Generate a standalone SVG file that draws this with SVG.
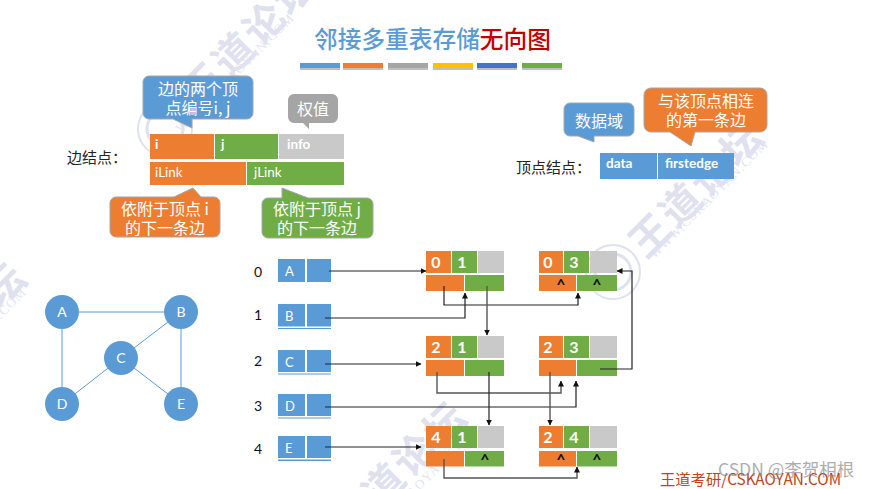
<svg xmlns="http://www.w3.org/2000/svg" width="870" height="489" viewBox="0 0 870 489">
<defs>
<marker id="ah" markerWidth="6" markerHeight="6" refX="5.5" refY="3" orient="auto" markerUnits="userSpaceOnUse"><path d="M0,0 L6,3 L0,6 Z" fill="#111"/></marker>
</defs>
<style>
text{font-family:"Noto Sans CJK SC","Liberation Sans",sans-serif}
.o{fill:#ED7D31}.g{fill:#70AD47}.h{fill:#C9C9C9}.b{fill:#5B9BD5}
.cap{fill:#fff;font-size:16px;text-anchor:middle}
.cell{fill:#fff;font-family:Lato,"Liberation Sans",sans-serif;font-size:13.500px;font-weight:700}
.link{fill:#fff;font-family:Lato,"Liberation Sans",sans-serif;font-size:13.500px}
.num{fill:#fff;font-family:Lato,"Liberation Sans",sans-serif;font-size:16px;font-weight:700;text-anchor:middle}
.nil{fill:#111;font-family:Lato,"Liberation Sans",sans-serif;font-size:16px;font-weight:700;text-anchor:middle}
.lab{fill:#222;font-size:15px}
.idx{fill:#111;font-family:Lato,"Liberation Sans",sans-serif;font-size:14px;text-anchor:middle}
.vl{fill:#fff;font-family:Lato,"Liberation Sans",sans-serif;font-size:13px}
.gl{fill:#fff;font-family:Lato,"Liberation Sans",sans-serif;font-size:14px;text-anchor:middle}
.call{stroke:#a6a6a6;stroke-width:1}
.wm{fill:#DFE1EF;font-size:40px;font-weight:700;text-anchor:middle;letter-spacing:3px}
.wms{fill:#E2E4F0;font-family:"Liberation Serif",serif;font-size:13px;text-anchor:middle;letter-spacing:1.2px}
.stamp{fill:none;stroke:#DFE1EF}
.edge{fill:none;stroke:#5B9BD5;stroke-width:1}
.conn{fill:none;stroke:#222;stroke-width:1.2;marker-end:url(#ah)}
.conn2{fill:none;stroke:#555;stroke-width:1.4;marker-end:url(#ah)}
.sh{fill:#000;opacity:.25}
</style>
<rect width="870" height="489" fill="#fff"/>

<g id="watermark">
<text class="wm" transform="translate(250,38) rotate(-45)" dy="14">王道论坛</text>
<text class="wms" transform="translate(238,76) rotate(-45)">WWW.CSKAOYAN.COM</text>
<text class="wm" transform="translate(697,189) rotate(-45)" dy="14">王道论坛</text>
<text class="wms" transform="translate(712,202) rotate(-45)">WWW.CSKAOYAN.COM</text>
<text class="wm" transform="translate(400,469) rotate(-45)" dy="14">王道论坛</text>
<text class="wms" transform="translate(418,492) rotate(-45)">WWW.CSKAOYAN.COM</text>
<text class="wm" transform="translate(-40,330) rotate(-45)" dy="14">王道论坛</text>
<text class="wms" transform="translate(-30,350) rotate(-45)">WWW.CSKAOYAN.COM</text>
<circle class="stamp" cx="165" cy="129" r="27" stroke-width="2"/><circle class="stamp" cx="165" cy="129" r="18" stroke-width="3"/>
<circle class="stamp" cx="613" cy="272" r="27" stroke-width="2"/><circle class="stamp" cx="613" cy="272" r="18" stroke-width="3"/>
</g>

<g id="title">
<text x="314" y="48" font-size="23.700" font-weight="500" fill="#5B9BD5">邻接多重表存储<tspan fill="#C00000">无向图</tspan></text>
<rect class="sh" x="300" y="65" width="40" height="5"/><rect x="300" y="63" width="40" height="5" fill="#5B9BD5"/>
<rect class="sh" x="343" y="65" width="40" height="5"/><rect x="343" y="63" width="40" height="5" fill="#ED7D31"/>
<rect class="sh" x="388" y="65" width="40" height="5"/><rect x="388" y="63" width="40" height="5" fill="#A5A5A5"/>
<rect class="sh" x="433" y="65" width="40" height="5"/><rect x="433" y="63" width="40" height="5" fill="#FFC000"/>
<rect class="sh" x="477" y="65" width="40" height="5"/><rect x="477" y="63" width="40" height="5" fill="#4472C4"/>
<rect class="sh" x="522" y="65" width="40" height="5"/><rect x="522" y="63" width="40" height="5" fill="#70AD47"/>
</g>

<g id="edge-format">
<text class="lab" x="67" y="163">边结点：</text>
<rect class="o" x="150" y="134" width="64" height="25"/><rect class="g" x="215" y="134" width="63" height="25"/><rect class="h" x="279" y="134" width="65" height="25"/>
<rect class="o" x="150" y="162" width="96" height="23"/><rect class="g" x="247" y="162" width="97" height="23"/>
<text class="cell" x="155" y="149">i</text><text class="cell" x="221" y="149">j</text><text class="cell" x="287" y="149">info</text>
<text class="link" x="155" y="177">iLink</text><text class="link" x="254" y="177">jLink</text>
</g>
<g id="callout-ij">
<path class="b call" d="M149,76H247a6,6 0 0 1 6,6V113a6,6 0 0 1 -6,6H192V128L173,119H149a6,6 0 0 1 -6,-6V82a6,6 0 0 1 6,-6Z"/>
<text class="cap" x="198" y="95">边的两个顶</text><text class="cap" x="198" y="114">点编号i, j</text>
</g>
<g id="callout-weight">
<path d="M294,94H332a6,6 0 0 1 6,6V117a6,6 0 0 1 -6,6H309V129L303,123H294a6,6 0 0 1 -6,-6V100a6,6 0 0 1 6,-6Z" fill="#A5A5A5"/>
<text class="cap" x="313" y="115">权值</text>
</g>
<g id="callout-ilink">
<path class="o call" d="M116,197H174L193,188L201,197H214a6,6 0 0 1 6,6V231a6,6 0 0 1 -6,6H116a6,6 0 0 1 -6,-6V203a6,6 0 0 1 6,-6Z"/>
<text class="cap" x="165" y="215">依附于顶点 i</text><text class="cap" x="165" y="234">的下一条边</text>
</g>
<g id="callout-jlink">
<path class="g call" d="M268,198H282V188L308,198H367a6,6 0 0 1 6,6V232a6,6 0 0 1 -6,6H268a6,6 0 0 1 -6,-6V204a6,6 0 0 1 6,-6Z"/>
<text class="cap" x="317" y="215">依附于顶点 j</text><text class="cap" x="317" y="234">的下一条边</text>
</g>

<g id="vertex-format">
<text class="lab" x="516" y="173">顶点结点：</text>
<rect class="b" x="600" y="153" width="57" height="26"/><rect class="b" x="658" y="153" width="76" height="26"/>
<text class="cell" x="606" y="168">data</text><text class="cell" x="665" y="168">firstedge</text>
</g>
<g id="callout-data">
<path class="b call" d="M570,103H628a6,6 0 0 1 6,6V130a6,6 0 0 1 -6,6H594V142L578,136H570a6,6 0 0 1 -6,-6V109a6,6 0 0 1 6,-6Z"/>
<text class="cap" x="599" y="127">数据域</text>
</g>
<g id="callout-first">
<path class="o call" d="M651,88H760a7,7 0 0 1 7,7V125a7,7 0 0 1 -7,7H695L691,146L670,132H651a7,7 0 0 1 -7,-7V95a7,7 0 0 1 7,-7Z"/>
<text class="cap" x="706" y="107">与该顶点相连</text><text class="cap" x="706" y="126">的第一条边</text>
</g>

<g id="graph-edges">
<path class="edge" d="M62,312L181,312M62,312L62,404M181,312L121,358M181,312L181,404M121,358L62,404M121,358L181,404"/>
</g>
<g id="gA"><circle class="b" cx="62" cy="312" r="17"/><text class="gl" x="62" y="317">A</text></g>
<g id="gB"><circle class="b" cx="181" cy="312" r="17"/><text class="gl" x="181" y="317">B</text></g>
<g id="gC"><circle class="b" cx="121" cy="358" r="17"/><text class="gl" x="121" y="363">C</text></g>
<g id="gD"><circle class="b" cx="62" cy="404" r="17"/><text class="gl" x="62" y="409">D</text></g>
<g id="gE"><circle class="b" cx="181" cy="404" r="17"/><text class="gl" x="181" y="409">E</text></g>

<g id="v0"><text class="idx" x="258" y="277">0</text><rect class="b" x="278" y="259" width="27" height="23"/><rect class="b" x="307" y="259" width="24" height="23"/><text class="vl" x="285" y="276">A</text></g>
<g id="v1"><text class="idx" x="258" y="320">1</text><rect class="b" x="278" y="304" width="27" height="22.500"/><rect class="b" x="307" y="304" width="24" height="22.500"/><rect class="b" x="278" y="328" width="53" height="1"/><text class="vl" x="285" y="321">B</text></g>
<g id="v2"><text class="idx" x="258" y="366">2</text><rect class="b" x="278" y="350" width="27" height="22"/><rect class="b" x="307" y="350" width="24" height="22"/><rect class="b" x="278" y="373.500" width="53" height="1"/><text class="vl" x="285" y="367">C</text></g>
<g id="v3"><text class="idx" x="258" y="411">3</text><rect class="b" x="278" y="394" width="27" height="22"/><rect class="b" x="307" y="394" width="24" height="22"/><rect class="b" x="278" y="417.500" width="53" height="1"/><text class="vl" x="285" y="411">D</text></g>
<g id="v4"><text class="idx" x="258" y="454">4</text><rect class="b" x="278" y="436" width="27" height="22"/><rect class="b" x="307" y="436" width="24" height="22"/><rect class="b" x="278" y="459.500" width="53" height="1.500"/><text class="vl" x="285" y="453">E</text></g>

<g id="e01"><rect class="o" x="426" y="251" width="25" height="22"/><rect class="g" x="452" y="251" width="25" height="22"/><rect class="h" x="478" y="251" width="26" height="22"/><rect class="o" x="426" y="275" width="38" height="16"/><rect class="g" x="465" y="275" width="39" height="16"/><text class="num" x="436" y="268">0</text><text class="num" x="462" y="268">1</text></g>
<g id="e03"><rect class="o" x="539" y="251" width="24" height="22"/><rect class="g" x="564" y="251" width="25" height="22"/><rect class="h" x="590" y="251" width="27" height="22"/><rect class="o" x="539" y="275" width="37" height="16"/><rect class="g" x="577" y="275" width="40" height="16"/><text class="num" x="548" y="268">0</text><text class="num" x="574" y="268">3</text><text class="nil" x="561" y="290">^</text><text class="nil" x="597" y="290">^</text></g>
<g id="e21"><rect class="o" x="426" y="336" width="25" height="22"/><rect class="g" x="452" y="336" width="25" height="22"/><rect class="h" x="478" y="336" width="26" height="22"/><rect class="o" x="426" y="360" width="38" height="16"/><rect class="g" x="465" y="360" width="39" height="16"/><text class="num" x="436" y="353">2</text><text class="num" x="462" y="353">1</text></g>
<g id="e23"><rect class="o" x="539" y="336" width="24" height="22"/><rect class="g" x="564" y="336" width="25" height="22"/><rect class="h" x="590" y="336" width="27" height="22"/><rect class="o" x="539" y="360" width="37" height="16"/><rect class="g" x="577" y="360" width="40" height="16"/><text class="num" x="548" y="353">2</text><text class="num" x="574" y="353">3</text></g>
<g id="e41"><rect class="o" x="426" y="426" width="25" height="22"/><rect class="g" x="452" y="426" width="25" height="22"/><rect class="h" x="478" y="426" width="26" height="22"/><rect class="o" x="426" y="451" width="38" height="15.500"/><rect class="g" x="465" y="451" width="39" height="15.500"/><text class="num" x="436" y="443">4</text><text class="num" x="462" y="443">1</text><text class="nil" x="485" y="465">^</text></g>
<g id="e24"><rect class="o" x="539" y="426" width="24" height="22"/><rect class="g" x="564" y="426" width="25" height="22"/><rect class="h" x="590" y="426" width="27" height="22"/><rect class="o" x="539" y="451" width="37" height="15.500"/><rect class="g" x="577" y="451" width="40" height="15.500"/><text class="num" x="548" y="443">2</text><text class="num" x="574" y="443">4</text><text class="nil" x="561" y="465">^</text><text class="nil" x="597" y="465">^</text></g>

<g id="connectors">
<path class="conn" d="M329,271H426"/>
<path class="conn" d="M325,318H465V293"/>
<path class="conn" d="M325,364H421"/>
<path class="conn" d="M325,407H576V381"/>
<path class="conn" d="M325,447H421"/>
<path class="conn" d="M444,286V305H578V293"/>
<path class="conn2" d="M487,286V335"/>
<path class="conn2" d="M437,372V393H561V381"/>
<path class="conn" d="M489,372V425"/>
<path class="conn2" d="M550,372V425"/>
<path class="conn" d="M600,369H632V271H617"/>
<path class="conn2" d="M444,459V478H577V467"/>
</g>

<g id="footer">
<text x="660" y="485" font-size="15.300" fill="#C0431A">王道考研/CSKAOYAN.COM</text>
<text x="718" y="476" font-size="17.500" fill="#888" fill-opacity=".7">CSDN @李贺相根</text>
</g>
</svg>
